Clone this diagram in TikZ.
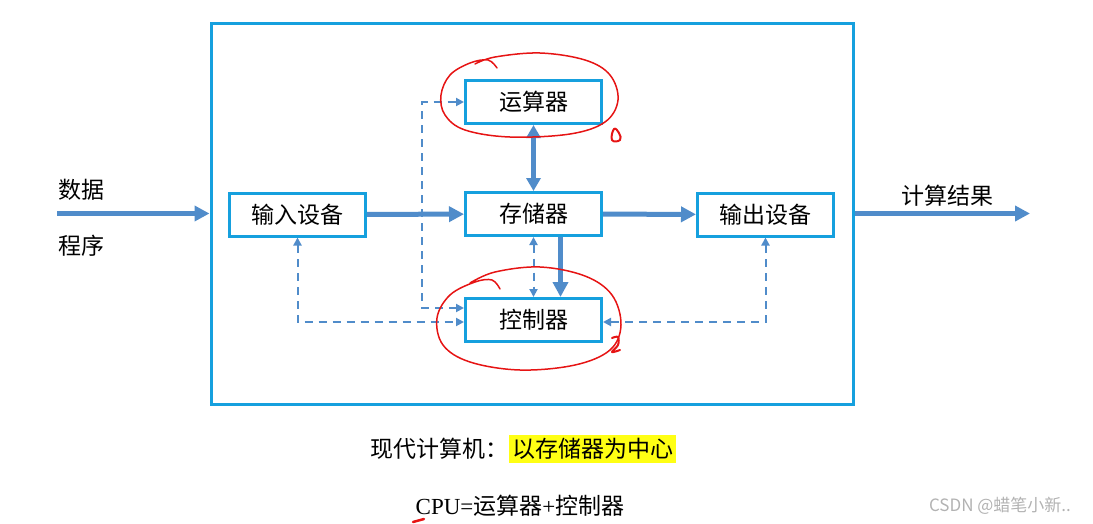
\documentclass[tikz,border=0pt]{standalone}
\usepackage{fontspec}
\setmainfont{Liberation Serif}
\newfontfamily\cjk{Noto Sans CJK SC}
\usetikzlibrary{arrows.meta}
\definecolor{boxblue}{RGB}{22,160,222}
\definecolor{flowblue}{RGB}{80,140,202}
\definecolor{markred}{RGB}{230,20,20}
\definecolor{hilite}{RGB}{255,255,20}

\begin{document}
\begin{tikzpicture}[x=1pt,y=-1pt,
    unit/.style={draw=boxblue, line width=3pt, minimum width=136pt, minimum height=43pt, inner sep=0pt, font=\cjk\fontsize{23}{27}\selectfont},
    label/.style={inner sep=0pt, font=\cjk\fontsize{23}{27}\selectfont},
    bus/.style={draw=flowblue, line width=5pt, -{Triangle[length=15pt,width=15pt]}},
    link/.style={draw=flowblue, line width=2pt, dash pattern=on 8pt off 6pt, {Triangle[length=8pt,width=8pt]}-{Triangle[length=8pt,width=8pt]}},
    scribble/.style={draw=markred, line width=1.5pt, line cap=round, line join=round}]
    \useasboundingbox (0,0) rectangle (1093,523);

    % frame and units
    \node[draw=boxblue, line width=3pt, minimum width=642pt, minimum height=381pt, inner sep=0pt] (frame) at (532,213.5) {};
    \node[unit] (alu) at (533.5,102) {运算器};
    \node[unit] (mem) at (533.5,214) {存储器};
    \node[unit] (ctl) at (533.5,320) {控制器};
    \node[unit] (inp) at (297.5,214.5) {输入设备};
    \node[unit] (outp) at (765.5,214.5) {输出设备};

    % outside labels
    \node[label] (data) at (81,190) {数据};
    \node[label] (prog) at (81,246) {程序};
    \node[label] (res) at (947,196) {计算结果};
    \coordinate (src) at (57,213.5);
    \coordinate (dst) at (1030,213.5);

    % data flow
    \draw[bus] (src) -- (frame.west);
    \draw[bus] (inp) -- (mem);
    \draw[bus] (mem) -- (outp);
    \draw[bus] (frame.east) -- (dst);
    \draw[bus, {Triangle[length=13pt,width=14pt]}-{Triangle[length=13pt,width=14pt]}] (alu) -- (mem);
    \draw[bus] ([xshift=27pt]mem.south) -- ([xshift=27pt]ctl.north);

    % control signals
    \draw[link] ([yshift=12pt]ctl.west) -- ++(-42,0) |- (alu.west);
    \draw[link] (mem) -- (ctl);
    \draw[link] (inp.south) |- ([yshift=-2pt]ctl.west);
    \draw[link] (outp.south) |- ([yshift=-2pt]ctl.east);

    % hand marks
    \draw[scribble] plot[smooth, tension=0.6] coordinates {(497,68) (488,60) (470,63) (450,75) (441,95) (445,115) (465,130) (510,137) (570,134) (605,122) (618,100) (610,75) (585,60) (540,53) (495,57) (475,64)};
    \draw[scribble, line width=2pt] plot[smooth cycle, tension=0.8] coordinates {(612,140) (614,129) (619,133) (620,140)};
    \draw[scribble] plot[smooth, tension=0.6] coordinates {(500,289) (492,280) (475,282) (450,295) (437,318) (443,345) (470,362) (520,370) (575,365) (610,350) (621,325) (612,295) (585,276) (540,267) (495,272) (470,283)};
    \draw[scribble, line width=2pt] plot[smooth, tension=0.6] coordinates {(612,338) (618,337) (618,345) (612,352) (620,350)};
    \draw[scribble, line width=2.5pt] (413,522) -- (424,519);

    % notes
    \node[label, anchor=east] (note) at (509,449) {现代计算机：};
    \node[label, anchor=west, fill=hilite, inner sep=3pt] (focus) at (509,449) {以存储器为中心};
    \node[inner sep=0pt, font=\fontsize{23}{27}\selectfont] (cpu) at (520,506) {CPU=\cjk{}运算器\rmfamily{}+\cjk{}控制器};
    \node[inner sep=0pt, text=black!30, font=\cjk\fontsize{17}{20}\selectfont] (mark) at (1000,506) {CSDN @蜡笔小新..};
\end{tikzpicture}
\end{document}
